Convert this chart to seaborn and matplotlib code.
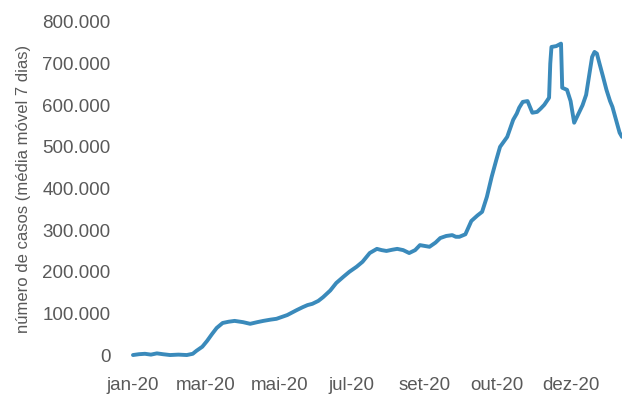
import matplotlib
matplotlib.use("Agg")
import matplotlib.pyplot as plt
import matplotlib.ticker as mticker
import pandas as pd
import seaborn as sns

# dias desde o início da série e casos (média móvel 7 dias, em milhares)
dias = [0, 5, 10, 15, 20, 25, 31, 38, 45, 50,
        53, 58, 62, 66, 70, 75, 80, 85, 92, 98,
        104, 109, 115, 120, 125, 129, 133, 137, 142, 146,
        150, 155, 159, 165, 170, 176, 181, 187, 192, 198,
        204, 208, 212, 217, 221, 226, 231, 236, 240, 244,
        248, 253, 257, 262, 267, 270, 273, 278, 283, 288,
        292, 296, 300, 304, 307, 310, 313, 318, 321, 323,
        326, 330, 334, 338, 341, 344, 348, 349, 350, 354,
        358, 359, 363, 366, 369, 373, 376, 379, 382, 384,
        386, 388, 390, 393, 396, 399, 401, 404, 407, 409]
casos = [0, 2, 3, 1, 4, 2, 0, 1, 0, 3,
         10, 20, 34, 50, 65, 77, 80, 82, 79, 75,
         79, 82, 85, 87, 92, 96, 102, 108, 115, 120,
         123, 130, 139, 155, 173, 188, 200, 212, 224, 245,
         255, 252, 250, 253, 255, 252, 245, 252, 264, 262,
         260, 270, 281, 286, 288, 284, 284, 290, 322, 335,
         344, 380, 428, 470, 500, 512, 524, 565, 580, 594,
         608, 610, 582, 584, 592, 601, 618, 700, 740, 742,
         748, 642, 637, 610, 558, 582, 600, 625, 680, 716,
         728, 724, 702, 670, 637, 610, 596, 565, 534, 524]
tick_pos = [0, 61, 123, 183, 244, 304, 366]
tick_labels = ["jan-20", "mar-20", "mai-20", "jul-20", "set-20", "out-20", "dez-20"]

sns.set_style("white")
plt.rcParams["font.family"] = ["Liberation Sans", "DejaVu Sans"]

df = pd.DataFrame({"dia": dias, "casos": [c * 1000 for c in casos]})

fig = plt.figure(figsize=(6.22, 3.98), dpi=100)
ax = fig.add_axes([127 / 622, 1 - 359.2 / 398, 1 - 127 / 622, (359.2 - 17.8) / 398])
sns.lineplot(data=df, x="dia", y="casos", ax=ax, color="#3a8abb", linewidth=2.8)

ax.set_xlim(-5, 409)
ax.set_ylim(-10000, 810000)
ax.set_yticks(range(0, 800001, 100000))
ax.yaxis.set_major_formatter(
    mticker.FuncFormatter(lambda v, p: f"{int(v):,}".replace(",", ".")))
ax.set_xticks(tick_pos)
ax.set_xticklabels(tick_labels)
ax.tick_params(axis="both", length=0, labelsize=13.5, colors="#595959")
ax.tick_params(axis="x", pad=13)
ax.tick_params(axis="y", pad=12)
ax.set_xlabel("")
ax.set_ylabel("número de casos (média móvel 7 dias)", fontsize=12,
              color="#595959", labelpad=8)
sns.despine(ax=ax, left=True, bottom=True)

fig.savefig("out.png", dpi=100)
